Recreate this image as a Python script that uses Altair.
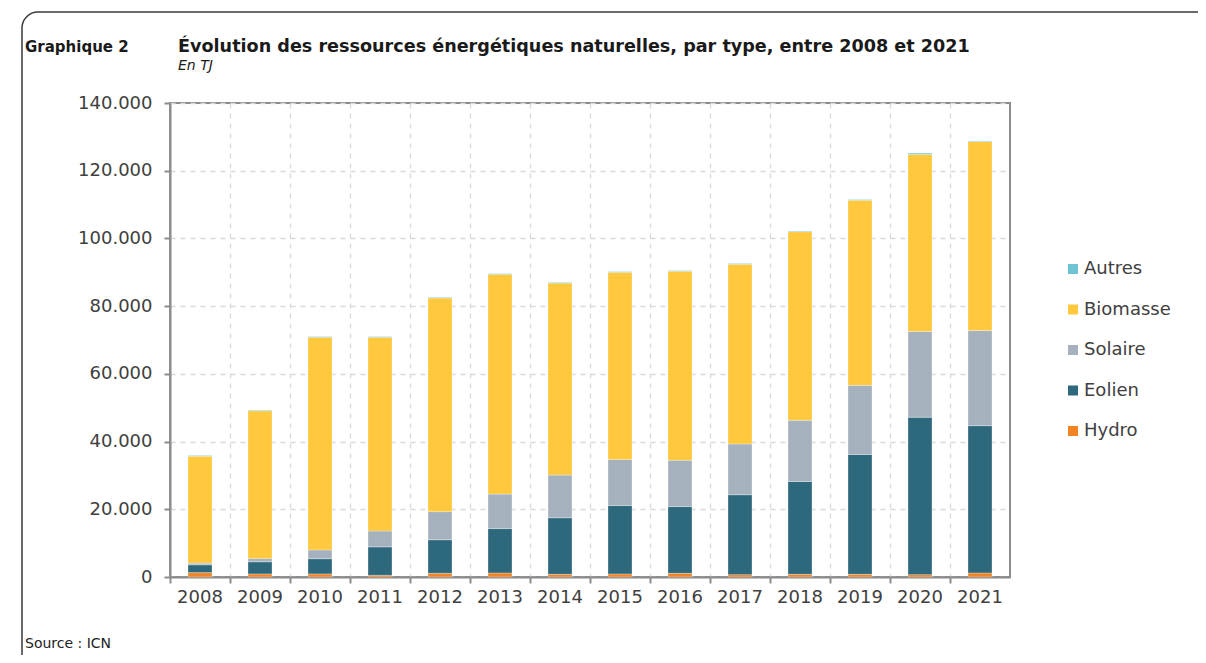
import altair as alt
import pandas as pd

years = ["2008", "2009", "2010", "2011", "2012", "2013", "2014",
         "2015", "2016", "2017", "2018", "2019", "2020", "2021"]
hydro    = [1300, 900, 900, 500, 1100, 1200, 800, 900, 1100, 700, 800, 800, 700, 1200]
eolien   = [2300, 3600, 4500, 8400, 9900, 13100, 16700, 20200, 19700, 23600, 27400, 35400, 46500, 43500]
solaire  = [500, 1000, 2600, 4700, 8300, 10200, 12600, 13600, 13700, 15000, 18100, 20400, 25300, 28100]
biomasse = [31600, 43600, 62800, 57200, 63100, 64900, 56700, 55300, 55800, 53100, 55700, 54700, 52300, 55800]
autres   = [200, 200, 200, 200, 200, 200, 200, 200, 200, 200, 200, 200, 400, 200]

series = ["Hydro", "Eolien", "Solaire", "Biomasse", "Autres"]
legend_order = ["Autres", "Biomasse", "Solaire", "Eolien", "Hydro"]
colors = ["#6EC4D3", "#FFC83D", "#A6B1BE", "#2E687D", "#F28424"]

rows = []
for i, y in enumerate(years):
    for k, (name, vals) in enumerate(zip(series, [hydro, eolien, solaire, biomasse, autres])):
        rows.append({"Année": y, "Type": name, "Valeur": vals[i], "ordre": k})
df = pd.DataFrame(rows)

FONT = "DejaVu Sans"
GRAY = "#8c8c8c"

bars = alt.Chart(df).mark_bar(size=24, stroke="white", strokeWidth=0.5, strokeOpacity=0.6).encode(
    x=alt.X("Année:N", title=None,
            scale=alt.Scale(paddingInner=0, paddingOuter=0),
            axis=alt.Axis(bandPosition=0, labelAngle=0, labelFontSize=18, labelColor="#404040",
                          labelFont=FONT, labelPadding=5, tickSize=6, tickColor=GRAY, tickWidth=2,
                          domainColor=GRAY, domainWidth=2, grid=True, gridDash=[5, 5],
                          gridColor="#d9d9d9", gridWidth=1.3)),
    y=alt.Y("Valeur:Q", title=None, stack="zero",
            scale=alt.Scale(domain=[0, 140000], nice=False),
            axis=alt.Axis(values=[0, 20000, 40000, 60000, 80000, 100000, 120000, 140000],
                          labelExpr="replace(format(datum.value, ','), ',', '.')",
                          labelFontSize=18, labelColor="#404040", labelFont=FONT,
                          labelPadding=12, tickSize=6, tickColor=GRAY, tickWidth=2,
                          domainColor=GRAY, domainWidth=2, grid=True, gridDash=[5, 5],
                          gridColor="#d9d9d9", gridWidth=1.3)),
    color=alt.Color("Type:N", scale=alt.Scale(domain=legend_order, range=colors),
                    legend=alt.Legend(title=None, orient="none", legendX=894, legendY=157,
                                      symbolType="square", symbolSize=100, symbolStrokeWidth=0,
                                      labelFontSize=18, labelFont=FONT, labelColor="#404040",
                                      labelOffset=2, rowPadding=22.5)),
    order=alt.Order("ordre:Q", sort="ascending"),
)

def txt(s, x, y, size, weight="normal", style="normal", color="#1a1a1a"):
    return alt.Chart(pd.DataFrame({"t": [s]})).mark_text(
        align="left", baseline="alphabetic", font=FONT, fontSize=size,
        fontWeight=weight, fontStyle=style, color=color
    ).encode(x=alt.value(x), y=alt.value(y), text="t:N")

t1 = txt("Graphique 2", -145, -51, 15, weight="bold")
t2 = txt("Évolution des ressources énergétiques naturelles, par type, entre 2008 et 2021", 8, -51, 17.6, weight="bold")
t3 = txt("En TJ", 8, -33, 14, style="italic")
t4 = txt("Source : ICN", -145, 545, 14, color="#222222")

frame = alt.Chart(pd.DataFrame({"a": [0]})).mark_rect(
    fill=None, stroke="#3a3a3a", strokeWidth=1.5, cornerRadius=16
).encode(x=alt.value(-148), x2=alt.value(1100), y=alt.value(-91), y2=alt.value(640))

chart = alt.layer(frame, bars, t1, t2, t3, t4).properties(
    width=840, height=474,
    autosize=alt.AutoSizeParams(type="none"),
    padding={"left": 162, "top": 95, "right": 188, "bottom": 78},
).configure_view(stroke=GRAY, strokeWidth=2)

chart.save("out.html", embed_options={"renderer": "svg", "actions": False})
